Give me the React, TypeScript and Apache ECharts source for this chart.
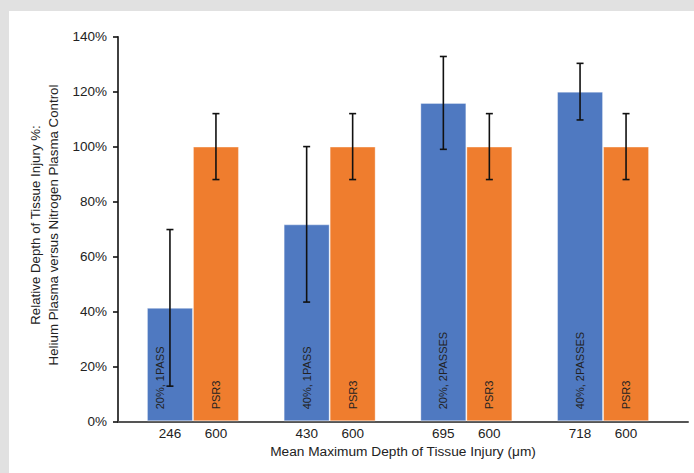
import React, { useEffect, useRef } from "react";
import * as echarts from "echarts";

const heliumDepths = ["246", "430", "695", "718"];
const nitrogenDepths = ["600", "600", "600", "600"];
const heliumLabels = ["20%, 1PASS", "40%, 1PASS", "20%, 2PASSES", "40%, 2PASSES"];
const nitrogenLabels = ["PSR3", "PSR3", "PSR3", "PSR3"];
const heliumValues = [41.3, 71.7, 115.9, 120.0];
const heliumErrors = [28.5, 28.3, 16.9, 10.3];
const nitrogenValues = [100, 100, 100, 100];
const nitrogenErrors = [12, 12, 12, 12];
const yTicks = [0, 20, 40, 60, 80, 100, 120, 140];
const xTitle = "Mean Maximum Depth of Tissue Injury (μm)";
const yTitle1 = "Relative Depth of Tissue Injury %:";
const yTitle2 = "Helium Plasma versus Nitrogen Plasma Control";

const FONT = "'Liberation Sans', Arial, sans-serif";
const BAR_W = 46;
const BLUE = "#4f79c1";
const ORANGE = "#ef7d2e";
const TEXT = "#222";

export default function App() {
  const ref = useRef<HTMLDivElement>(null);
  useEffect(() => {
    if (!ref.current) return;
    const chart = echarts.init(ref.current, null, { renderer: "svg" });

    const errData = (vals: number[], errs: number[]) =>
      vals.map((v, i) => [i, v - errs[i], v + errs[i]]);

    const errRender = (shift: number) => (params: any, api: any) => {
      const i = api.value(0);
      const lo = api.coord([i, api.value(1)]);
      const hi = api.coord([i, api.value(2)]);
      const x = lo[0] + shift;
      const cap = 3.5;
      const style = { stroke: "#111", lineWidth: 1.6 };
      return {
        type: "group",
        children: [
          { type: "line", shape: { x1: x, y1: lo[1], x2: x, y2: hi[1] }, style },
          { type: "line", shape: { x1: x - cap, y1: lo[1], x2: x + cap, y2: lo[1] }, style },
          { type: "line", shape: { x1: x - cap, y1: hi[1], x2: x + cap, y2: hi[1] }, style },
        ],
      };
    };

    const barLabel = {
      show: true,
      position: "insideBottom",
      rotate: 90,
      align: "left",
      verticalAlign: "middle",
      distance: 12,
      fontFamily: FONT,
      fontSize: 11,
      color: TEXT,
    };

    chart.setOption({
      animation: false,
      backgroundColor: "#ffffff",
      grid: [
        { left: 115.6, right: 22.6, top: 25.7, bottom: 51.7 },
        { left: 109, right: 6, top: 25.7, bottom: 51.7 },
      ],
      xAxis: [
        {
          type: "category",
          gridIndex: 0,
          data: heliumDepths,
          axisLine: { show: false },
          axisTick: { show: false },
          axisLabel: {
            margin: 5,
            fontFamily: FONT,
            fontSize: 13.5,
            color: TEXT,
            formatter: (_v: string, idx: number) =>
              `{a|${heliumDepths[idx]}}{b|${nitrogenDepths[idx]}}`,
            rich: {
              a: { width: BAR_W, align: "center", fontFamily: FONT, fontSize: 13.5, color: TEXT },
              b: { width: BAR_W, align: "center", fontFamily: FONT, fontSize: 13.5, color: TEXT },
            },
          },
        },
        {
          type: "value",
          gridIndex: 1,
          min: 0,
          max: 1,
          axisLine: { show: true, onZero: false, lineStyle: { color: "#555", width: 2 } },
          axisTick: { show: false },
          axisLabel: { show: false },
          splitLine: { show: false },
          name: xTitle,
          nameLocation: "middle",
          nameGap: 23,
          nameTextStyle: { fontFamily: FONT, fontSize: 13.7, color: TEXT },
        },
      ],
      yAxis: [
        {
          type: "value",
          gridIndex: 0,
          min: 0,
          max: 140,
          interval: 20,
          show: false,
          splitLine: { show: false },
        },
        {
          type: "value",
          gridIndex: 1,
          min: yTicks[0],
          max: yTicks[yTicks.length - 1],
          interval: yTicks[1] - yTicks[0],
          axisLine: { show: true, lineStyle: { color: "#111", width: 1.6 } },
          axisTick: { show: true, length: 5, lineStyle: { color: "#111", width: 1.6 } },
          axisLabel: {
            margin: 11,
            fontFamily: FONT,
            fontSize: 13.5,
            color: TEXT,
            formatter: "{value}%",
          },
          splitLine: { show: false },
        },
      ],
      graphic: [
        {
          type: "text",
          x: 26.5,
          y: 214,
          rotation: Math.PI / 2,
          style: {
            text: yTitle1,
            font: `13.3px ${FONT}`,
            fill: TEXT,
            align: "center",
            verticalAlign: "middle",
          },
        },
        {
          type: "text",
          x: 44.5,
          y: 214,
          rotation: Math.PI / 2,
          style: {
            text: yTitle2,
            font: `13.3px ${FONT}`,
            fill: TEXT,
            align: "center",
            verticalAlign: "middle",
          },
        },
      ],
      series: [
        {
          type: "bar",
          xAxisIndex: 0,
          yAxisIndex: 0,
          barWidth: BAR_W,
          barGap: "0%",
          itemStyle: { color: BLUE, borderColor: "rgba(255,255,255,0.35)", borderWidth: 1 },
          data: heliumValues.map((v, i) => ({
            value: v,
            label: { ...barLabel, formatter: heliumLabels[i], offset: i === 0 ? [0, -10] : [0, 0] },
          })),
        },
        {
          type: "bar",
          xAxisIndex: 0,
          yAxisIndex: 0,
          barWidth: BAR_W,
          barGap: "0%",
          itemStyle: { color: ORANGE, borderColor: "rgba(255,255,255,0.35)", borderWidth: 1 },
          label: { ...barLabel, formatter: (p: any) => nitrogenLabels[p.dataIndex] },
          data: nitrogenValues,
        },
        {
          type: "custom",
          xAxisIndex: 0,
          yAxisIndex: 0,
          renderItem: errRender(-BAR_W / 2),
          encode: { x: 0, y: [1, 2] },
          data: errData(heliumValues, heliumErrors),
          z: 10,
        },
        {
          type: "custom",
          xAxisIndex: 0,
          yAxisIndex: 0,
          renderItem: errRender(BAR_W / 2),
          encode: { x: 0, y: [1, 2] },
          data: errData(nitrogenValues, nitrogenErrors),
          z: 10,
        },
      ],
    });
    return () => chart.dispose();
  }, []);

  return (
    <div
      style={{
        position: "fixed",
        left: 0,
        top: 0,
        width: 694,
        height: 473,
        background: "#e1e1e1",
      }}
    >
      <div
        ref={ref}
        style={{
          position: "absolute",
          left: 9,
          top: 11,
          width: 685,
          height: 462,
          background: "#fff",
        }}
      />
    </div>
  );
}
